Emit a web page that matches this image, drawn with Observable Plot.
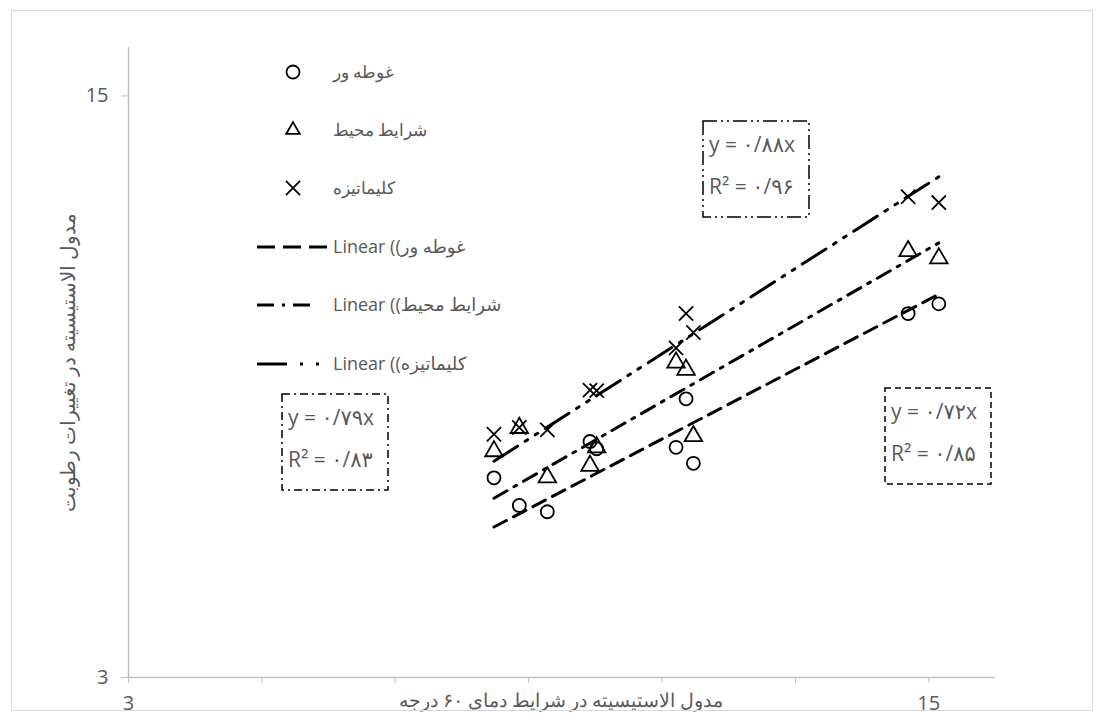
<!DOCTYPE html>
<html>
<head>
<meta charset="utf-8">
<script src="https://cdn.jsdelivr.net/npm/d3@7"></script>
<script src="https://cdn.jsdelivr.net/npm/@observablehq/plot@0.6"></script>
<style>
  html, body { margin: 0; padding: 0; background: #fff; }
  #wrap { position: relative; width: 1105px; height: 720px; }
  #frame { position: absolute; left: 11px; top: 10px; width: 1082px; height: 701px; border: 1px solid #d9d9d9; box-sizing: border-box; pointer-events: none; }
  svg text { font-family: "Open Sans", "DejaVu Sans", sans-serif; }
</style>
</head>
<body>
<div id="wrap"><div id="frame"></div></div>
<script>
// ---- data ----
const seriesNames = ["غوطه ور", "شرایط محیط", "کلیماتیزه"];
const xValues = [8.48, 8.86, 9.28, 9.92, 10.02, 11.21, 11.36, 11.47, 14.69, 15.15];
const yImmersed = [7.12, 6.55, 6.42, 7.87, 7.72, 7.75, 8.75, 7.42, 10.51, 10.71];
const yAmbient  = [7.67, 8.15, 7.13, 7.37, 7.75, 9.50, 9.35, 7.98, 11.80, 11.65];
const yClimate  = [8.02, 8.16, 8.11, 8.93, 8.92, 9.80, 10.51, 10.12, 12.92, 12.80];
const slopes = [0.72, 0.79, 0.88];
const rSquared = [0.85, 0.83, 0.96];
const xTicks = [3, 5, 7, 9, 11, 13, 15];
const xTickLabels = [3, 15];
const yTicks = [3, 15];
const xTitle = "مدول الاستیسیته در شرایط دمای ۶۰ درجه";
const yTitle = "مدول الاستیسیته در تغییرات رطوبت";

// ---- styles ----
const symbols = ["circle", "triangle", "times"];
const lineDash = ["14,8", "15,8,3,8", "28,9,3,9,3,9"];
const legendDash = ["18,8", "17,8,3,8", "30,13,3,13,3,13"];
const boxDash = ["6,4", "8,4,2,4", "14,4,2,4,2,4"];
const grey = "#595959";
const arabicFont = "'Liberation Serif', 'DejaVu Serif', serif";

const seriesY = [yImmersed, yAmbient, yClimate];
const points = seriesY.flatMap((ys, s) => ys.map((y, i) => ({x: xValues[i], y, s})));
const xmin = d3.min(xValues), xmax = d3.max(xValues);
const trend = slopes.map((m, s) => [{x: xmin, y: m * xmin, s}, {x: xmax, y: m * xmax, s}]);

const faDigits = s => String(s).replace(/\d/g, d => "۰۱۲۳۴۵۶۷۸۹"[d]).replace(".", "/");
const fmt2 = v => faDigits(v.toFixed(2));

const marks = [
  Plot.ruleY([3], {stroke: "#bfbfbf", strokeWidth: 1.5}),
  Plot.ruleX([3], {stroke: "#bfbfbf", strokeWidth: 1.5}),
  Plot.axisX({ticks: xTicks, tickSize: 6, tickPadding: 12, stroke: "#bfbfbf", fill: grey, fontSize: 20, label: null,
    tickFormat: d => xTickLabels.includes(d) ? String(d) : ""}),
  Plot.axisY({ticks: yTicks, tickSize: 7, tickPadding: 13, stroke: "#bfbfbf", fill: grey, fontSize: 20, label: null,
    tickFormat: d => String(d)}),
];
trend.forEach((seg, s) => {
  marks.push(Plot.line(seg, {x: "x", y: "y", stroke: "#000", strokeWidth: 3, strokeDasharray: lineDash[s]}));
});
[0, 1, 2].forEach(s => {
  marks.push(Plot.dot(points.filter(d => d.s === s), {x: "x", y: "y", symbol: () => symbols[s], r: 6.5,
    stroke: "#000", strokeWidth: 1.8, fill: "none"}));
});

const chart = Plot.plot({
  width: 1105, height: 720,
  marginLeft: 128, marginRight: 110, marginTop: 47, marginBottom: 43,
  x: {domain: [3, 16], label: null},
  y: {domain: [3, 16], label: null},
  symbol: {domain: symbols, range: symbols},
  style: {background: "transparent", overflow: "visible"},
  marks
});
document.getElementById("wrap").prepend(chart);

const svg = d3.select(chart);
// axis titles
svg.append("text").attr("x", 561).attr("y", 700).attr("dy", "0.35em").attr("text-anchor", "middle")
  .attr("fill", grey).attr("font-size", 19).style("font-family", arabicFont).text(xTitle);
svg.append("text").attr("transform", "translate(68,362) rotate(-90)").attr("dy", "0.35em").attr("text-anchor", "middle")
  .attr("fill", grey).attr("font-size", 20).style("font-family", arabicFont).text(yTitle);

// legend
const lg = svg.append("g").attr("text-anchor", "start");
const rowY = [72, 130, 188, 247, 305, 364];
const symPaths = [d3.symbolCircle, d3.symbolTriangle2, d3.symbolTimes];
seriesNames.forEach((name, s) => {
  lg.append("path").attr("d", d3.symbol(symPaths[s], Math.PI * 6.5 * 6.5)())
    .attr("transform", `translate(293,${rowY[s]})`).attr("fill", "none").attr("stroke", "#000").attr("stroke-width", 1.8);
  lg.append("text").attr("x", 333).attr("y", rowY[s]).attr("dy", "0.35em").attr("fill", grey).attr("text-anchor", "start")
    .attr("font-size", 17).style("font-family", arabicFont).text(name);
});
const legendLineEnd = [328, 317, 321];
seriesNames.forEach((name, s) => {
  const y = rowY[3 + s];
  lg.append("line").attr("x1", 257).attr("x2", legendLineEnd[s]).attr("y1", y).attr("y2", y)
    .attr("stroke", "#000").attr("stroke-width", 3).attr("stroke-dasharray", legendDash[s]);
  lg.append("text").attr("x", 333).attr("y", y).attr("dy", "0.35em").attr("fill", grey).attr("text-anchor", "start")
    .attr("font-size", 18).text("Linear (\u2067" + name + ")\u2069");
});

// equation boxes
const boxes = [
  {s: 0, x: 885, y: 388},
  {s: 1, x: 282, y: 394},
  {s: 2, x: 703, y: 121}
];
boxes.forEach(b => {
  const g = svg.append("g").attr("transform", `translate(${b.x},${b.y})`).attr("text-anchor", "start");
  g.append("rect").attr("width", 106).attr("height", 96).attr("fill", "#fff")
    .attr("stroke", "#000").attr("stroke-width", 1.5).attr("stroke-dasharray", boxDash[b.s]);
  g.append("text").attr("x", 6).attr("y", 24).attr("dy", "0.35em").attr("fill", grey).attr("font-size", 21)
    .text("y = " + fmt2(slopes[b.s]) + "x");
  g.append("text").attr("x", 6).attr("y", 66).attr("dy", "0.35em").attr("fill", grey).attr("font-size", 21)
    .text("R² = " + fmt2(rSquared[b.s]));
});
</script>
</body>
</html>
